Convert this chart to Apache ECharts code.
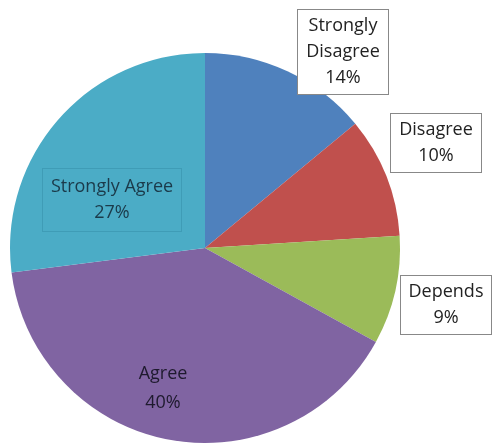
<!DOCTYPE html>
<html>
<head>
<meta charset="utf-8">
<script src="https://cdn.jsdelivr.net/npm/echarts@6/dist/echarts.min.js"></script>
<style>html,body{margin:0;padding:0;background:#fff}#c{width:495px;height:447px}</style>
</head>
<body>
<div id="c"></div>
<script>
var categories = ['Strongly Disagree', 'Disagree', 'Depends', 'Agree', 'Strongly Agree'];
var labelTexts = ['Strongly\nDisagree', 'Disagree', 'Depends', 'Agree', 'Strongly Agree'];
var values = [14, 10, 9, 40, 27];

var colors = ['#4F81BD', '#C0504D', '#9BBB59', '#8064A2', '#4BACC6'];
var labelPos = [[343, 52], [436, 143], [446, 305], [163, 388], [112, 200]];
var boxed = [true, true, true, false, false];

var chart = echarts.init(document.getElementById('c'), null, {renderer: 'canvas'});
var data = categories.map(function (name, i) {
  var lbl = {
    formatter: labelTexts[i] + '\n' + values[i] + '%',
    fontFamily: 'Open Sans',
    fontSize: 18,
    lineHeight: 26,
    color: '#222',
    align: 'center'
  };
  if (boxed[i]) {
    lbl.backgroundColor = '#fff';
    lbl.borderColor = '#888';
    lbl.borderWidth = 1;
    lbl.padding = [3, 3, 3, 3];
    lbl.width = 84;
  } else if (i === 4) {
    lbl.backgroundColor = colors[4];
    lbl.borderColor = '#3f9cb6';
    lbl.borderWidth = 1;
    lbl.padding = [5, 2, 5, 2];
    lbl.width = 134;
    lbl.color = '#1b3a4a';
  } else {
    lbl.color = '#1e1a2e';
    lbl.lineHeight = 29;
  }
  return {name: name, value: values[i], itemStyle: {color: colors[i]}, label: lbl};
});

chart.setOption({
  animation: false,
  series: [{
    type: 'pie',
    center: [205, 248],
    radius: 195,
    startAngle: 90,
    clockwise: true,
    data: data,
    itemStyle: {borderWidth: 0},
    label: {show: true, position: 'outside'},
    labelLine: {show: false},
    labelLayout: function (p) {
      return {x: labelPos[p.dataIndex][0], y: labelPos[p.dataIndex][1], align: 'center', verticalAlign: 'middle', hideOverlap: false};
    },
    emphasis: {disabled: true}
  }]
});
</script>
</body>
</html>
